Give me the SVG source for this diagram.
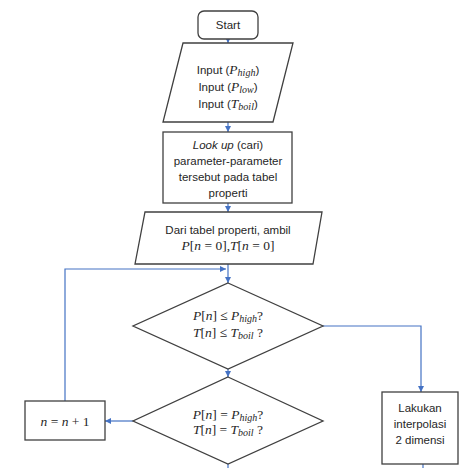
<svg xmlns="http://www.w3.org/2000/svg" width="470" height="468" viewBox="0 0 470 468">
<defs>
<marker id="ah" viewBox="0 0 10 10" refX="10" refY="5" markerWidth="6" markerHeight="6" orient="auto" markerUnits="userSpaceOnUse">
<path d="M0,0 L10,5 L0,10 z" fill="#4472C4"/>
</marker>
</defs>
<style>
.shape{fill:#fff;stroke:#404040;stroke-width:1.3}
.t{font-family:"Liberation Sans",Arial,sans-serif;font-size:11.5px;fill:#262626;text-anchor:middle}
.m{font-family:"Liberation Serif","Times New Roman",serif;font-size:13.5px;fill:#262626;text-anchor:middle}
.i{font-style:italic}
.s{font-size:10px;font-style:italic}
.c{fill:none;stroke:#4472C4;stroke-width:1.2}
</style>
<rect width="470" height="468" fill="#fff"/>
<g id="connectors">
<path class="c" d="M228,39 L228,43" marker-end="url(#ah)"/>
<path class="c" d="M228,122 L228,132" marker-end="url(#ah)"/>
<path class="c" d="M228,203 L228,212" marker-end="url(#ah)"/>
<path class="c" d="M228,264 L228,283" marker-end="url(#ah)"/>
<path class="c" d="M65,401 L65,269 L226,269" marker-end="url(#ah)"/>
<path class="c" d="M323,326 L421,326 L421,392" marker-end="url(#ah)"/>
<path class="c" d="M228,369 L228,377" marker-end="url(#ah)"/>
<path class="c" d="M133,421 L105,421" marker-end="url(#ah)"/>
<path class="c" d="M228,464 L228,468"/>
<path class="c" d="M423,464 L423,468"/>
</g>
<g id="start">
<rect class="shape" x="198" y="11" width="60" height="28" rx="6"/>
<text class="t" x="228" y="29" font-size="12">Start</text>
</g>
<g id="input">
<polygon class="shape" points="183,43 293,43 273,122 163,122"/>
<text class="t" x="228" y="74">Input (<tspan class="m i">P</tspan><tspan class="m s" dy="2">high</tspan><tspan dy="-2">)</tspan></text>
<text class="t" x="228" y="91">Input (<tspan class="m i">P</tspan><tspan class="m s" dy="2">low</tspan><tspan dy="-2">)</tspan></text>
<text class="t" x="228" y="108">Input (<tspan class="m i">T</tspan><tspan class="m s" dy="2">boil</tspan><tspan dy="-2">)</tspan></text>
</g>
<g id="lookup">
<rect class="shape" x="163" y="132" width="129" height="71"/>
<text class="t" x="228" y="149"><tspan font-style="italic">Look up</tspan> (cari)</text>
<text class="t" x="228" y="165">parameter-parameter</text>
<text class="t" x="228" y="181">tersebut pada tabel</text>
<text class="t" x="228" y="197">properti</text>
</g>
<g id="dari">
<polygon class="shape" points="145,212 322,212 313,264 135,264"/>
<text class="t" x="228" y="234">Dari tabel properti, ambil</text>
<text class="m" x="228" y="250"><tspan class="i">P</tspan>[<tspan class="i">n</tspan> = 0],<tspan class="i">T</tspan>[<tspan class="i">n</tspan> = 0]</text>
</g>
<g id="decision1">
<polygon class="shape" points="228,283 323,326 228,369 133,326"/>
<text class="m" x="228" y="320"><tspan class="i">P</tspan>[<tspan class="i">n</tspan>] ≤ <tspan class="i">P</tspan><tspan class="s" dy="2">high</tspan><tspan dy="-2">?</tspan></text>
<text class="m" x="228" y="337"><tspan class="i">T</tspan>[<tspan class="i">n</tspan>] ≤ <tspan class="i">T</tspan><tspan class="s" dy="2">boil</tspan><tspan dy="-2"> ?</tspan></text>
</g>
<g id="decision2">
<polygon class="shape" points="228,377 323,421 228,464 133,421"/>
<text class="m" x="228" y="419"><tspan class="i">P</tspan>[<tspan class="i">n</tspan>] = <tspan class="i">P</tspan><tspan class="s" dy="2">high</tspan><tspan dy="-2">?</tspan></text>
<text class="m" x="228" y="434"><tspan class="i">T</tspan>[<tspan class="i">n</tspan>] = <tspan class="i">T</tspan><tspan class="s" dy="2">boil</tspan><tspan dy="-2"> ?</tspan></text>
</g>
<g id="increment">
<rect class="shape" x="25" y="401" width="80" height="39"/>
<text class="m" x="65" y="426" font-size="14"><tspan class="i">n</tspan> = <tspan class="i">n</tspan> + 1</text>
</g>
<g id="interpolasi">
<rect class="shape" x="382" y="392" width="76" height="72"/>
<text class="t" x="420" y="412">Lakukan</text>
<text class="t" x="420" y="428">interpolasi</text>
<text class="t" x="420" y="444">2 dimensi</text>
</g>
</svg>
